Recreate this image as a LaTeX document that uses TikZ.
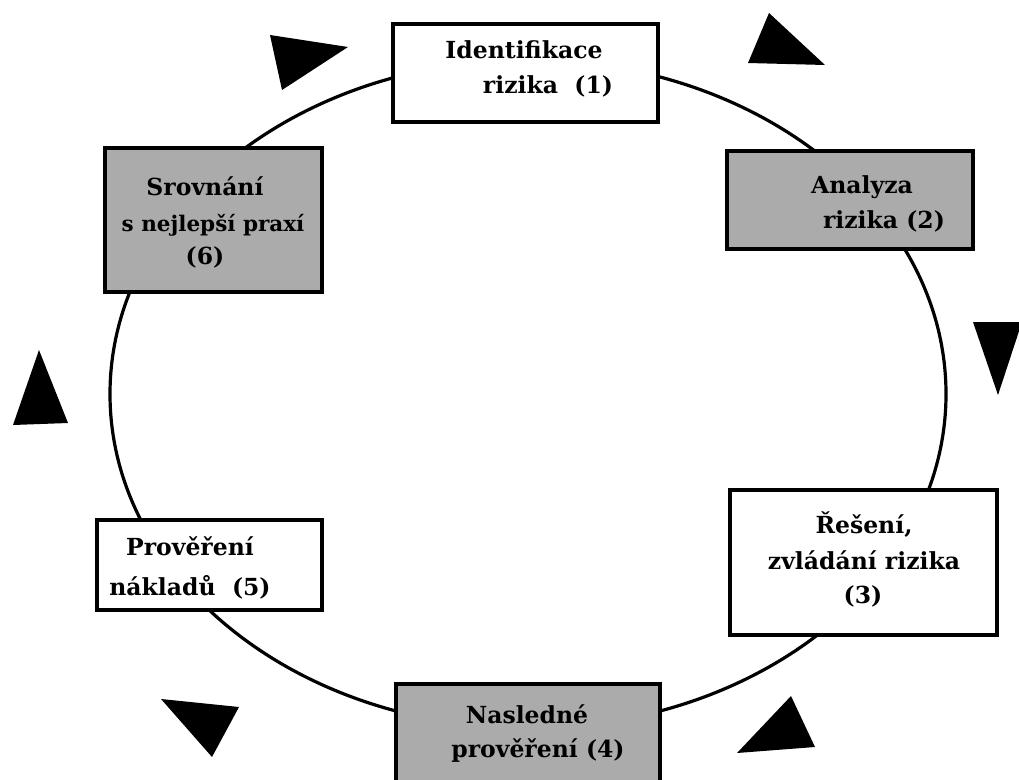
\documentclass[tikz,border=0pt]{standalone}
\usepackage{fontspec}
\setmainfont{DejaVu Serif}
\begin{document}
\begin{tikzpicture}[x=1pt,y=-1pt,
  box/.style={draw=black, line width=3.2pt, fill=white, rectangle, inner sep=0pt},
  graybox/.style={box, fill=black!33},
  lbl/.style={anchor=base, inner sep=0pt, font=\bfseries\fontsize{23.5}{28}\selectfont},
  narrowlbl/.style={lbl, font=\bfseries\fontsize{21.5}{26}\selectfont},
  tri/.style={fill=black}]
\useasboundingbox (0,0) rectangle (1019,779);
% cycle
\draw[line width=3.2pt] (528,394) ellipse [x radius=418, y radius=334];
% boxes
\node[box, minimum width=265pt, minimum height=98pt] (b1) at (525.5,73) {};
\node[graybox, minimum width=246pt, minimum height=98pt] (b2) at (850,200) {};
\node[box, minimum width=267pt, minimum height=145pt] (b3) at (863.5,562.5) {};
\node[graybox, minimum width=264pt, minimum height=116pt] (b4) at (528,742) {};
\node[box, minimum width=225pt, minimum height=90pt] (b5) at (209.5,565) {};
\node[graybox, minimum width=217pt, minimum height=144pt] (b6) at (213.5,220) {};
% labels
\node[lbl] (t1a) at (524,58) {Identifikace};
\node[lbl] (t1b) at (548,93) {rizika\ \ (1)};
\node[lbl] (t2a) at (862,193) {Analyza};
\node[lbl] (t2b) at (884,228) {rizika (2)};
\node[lbl] (t3a) at (864,533) {Řešení,};
\node[lbl] (t3b) at (864,569) {zvládání rizika};
\node[lbl] (t3c) at (863,603) {(3)};
\node[lbl] (t4a) at (527,723) {Nasledné};
\node[lbl] (t4b) at (538,757) {prověření (4)};
\node[lbl] (t5a) at (190,555) {Prověření};
\node[lbl] (t5b) at (190,595) {nákladů\ \ (5)};
\node[lbl] (t6a) at (205,195) {Srovnání};
\node[narrowlbl] (t6b) at (213,231) {s nejlepší praxí};
\node[lbl] (t6c) at (205,264) {(6)};
% arrowhead triangles
\fill[tri] (270,35) -- (348,47) -- (282,90) -- cycle;
\fill[tri] (769,13) -- (748,63) -- (825,65) -- cycle;
\fill[tri] (973,322) -- (1022,322) -- (998,395) -- cycle;
\fill[tri] (39,350) -- (13,425) -- (68,423) -- cycle;
\fill[tri] (161,699) -- (239,707) -- (212,757) -- cycle;
\fill[tri] (791,696) -- (737,753) -- (815,747) -- cycle;
\end{tikzpicture}
\end{document}
